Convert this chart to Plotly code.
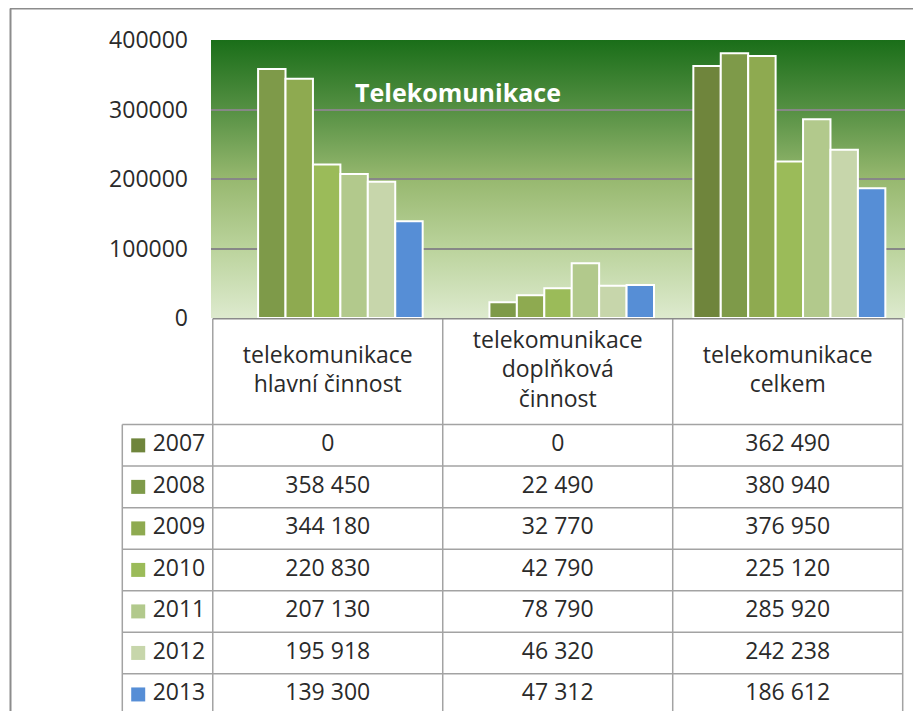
import base64
import plotly.graph_objects as go

# ---------------- data ----------------
categories = ["telekomunikace<br>hlavní činnost",
              "telekomunikace<br>doplňková<br>činnost",
              "telekomunikace<br>celkem"]
years = ["2007", "2008", "2009", "2010", "2011", "2012", "2013"]
v2007 = [0, 0, 362490]
v2008 = [358450, 22490, 380940]
v2009 = [344180, 32770, 376950]
v2010 = [220830, 42790, 225120]
v2011 = [207130, 78790, 285920]
v2012 = [195918, 46320, 242238]
v2013 = [139300, 47312, 186612]
series = [v2007, v2008, v2009, v2010, v2011, v2012, v2013]
colors = ["#6F853C", "#7E9A49", "#8EAA50", "#9BBB59", "#B2C98C", "#C7D6AB", "#568ED6"]
y_ticks = [0, 100000, 200000, 300000, 400000]
title_text = "Telekomunikace"

# ---------------- layout constants (screen pixels) ----------------
W, H = 921, 711
OX, OY = 8, 8                           # page body margin offset
PL, PR, PT, PB = 211, 905, 40, 318      # plot area
TL = 120                                # table left edge
HB = 424                                # header bottom
RH = 41.6                               # table row height
CW = (PR - PL) / 3.0
FONT = "Open Sans"
TXT = "#2a2a2a"
GRID_T = "#a3a3a3"

def fx(px):
    return (px - OX) / W

def fy(py):
    return 1 - (py - OY) / H

def px2x(px):
    return -0.5 + (px - PL) / CW

def py2y(py):
    return -0.5 + (py - HB) / RH

fig = go.Figure()

# ---------------- bars ----------------
for yr, vals, col in zip(years, series, colors):
    fig.add_trace(go.Bar(
        x=categories, y=[v if v else None for v in vals], name=yr,
        marker=dict(color=col, line=dict(color="white", width=2)),
        xaxis="x", yaxis="y", showlegend=False, hoverinfo="skip"))

# ---------------- table text ----------------
hdr_y = py2y((PB + HB) / 2.0)
fig.add_trace(go.Scatter(
    x=[0, 1, 2], y=[hdr_y] * 3, mode="text", text=categories,
    textfont=dict(family=FONT, size=23, color=TXT), textposition="middle center",
    xaxis="x2", yaxis="y2", showlegend=False, hoverinfo="skip", cliponaxis=False))

def fmt(v):
    return f"{v:,}".replace(",", " ")

for k, (yr, vals, col) in enumerate(zip(years, series, colors)):
    fig.add_trace(go.Scatter(
        x=[0, 1, 2], y=[k] * 3, mode="text", text=[fmt(v) for v in vals],
        textfont=dict(family=FONT, size=23, color=TXT), textposition="middle center",
        xaxis="x2", yaxis="y2", showlegend=False, hoverinfo="skip", cliponaxis=False))
    fig.add_trace(go.Scatter(
        x=[px2x(136)], y=[k], mode="markers",
        marker=dict(symbol="square", size=14, color=col, line=dict(width=0)),
        xaxis="x2", yaxis="y2", showlegend=False, hoverinfo="skip", cliponaxis=False))
    fig.add_trace(go.Scatter(
        x=[px2x(177)], y=[k], mode="text", text=[yr],
        textfont=dict(family=FONT, size=23, color=TXT), textposition="middle center",
        xaxis="x2", yaxis="y2", showlegend=False, hoverinfo="skip", cliponaxis=False))

# ---------------- table grid ----------------
shapes = []
y_top = py2y(PB)
y_bot = py2y(H + 20)
for xb in [-0.5, 0.5, 1.5, 2.5]:
    shapes.append(dict(type="line", xref="x2", yref="y2", x0=xb, x1=xb, y0=y_top, y1=y_bot,
                       line=dict(color=GRID_T, width=1.5)))
shapes.append(dict(type="line", xref="x2", yref="y2", x0=px2x(TL), x1=px2x(TL),
                   y0=-0.5, y1=y_bot, line=dict(color=GRID_T, width=1.5)))
for k in range(len(years) + 1):
    shapes.append(dict(type="line", xref="x2", yref="y2", x0=px2x(TL), x1=2.5,
                       y0=k - 0.5, y1=k - 0.5, line=dict(color=GRID_T, width=1.5)))
shapes.append(dict(type="line", xref="x2", yref="y2", x0=-0.5, x1=2.5, y0=y_top, y1=y_top,
                   line=dict(color="#8a8a8a", width=1.5)))
# outer chart border
shapes.append(dict(type="line", xref="paper", yref="paper", x0=fx(10), x1=1.0,
                   y0=fy(8.5), y1=fy(8.5), line=dict(color="#8c8c8c", width=2)))
shapes.append(dict(type="line", xref="paper", yref="paper", x0=fx(10.5), x1=fx(10.5),
                   y0=0, y1=fy(8.5), line=dict(color="#8c8c8c", width=2)))

# ---------------- gradient background ----------------
svg = ('<svg xmlns="http://www.w3.org/2000/svg" width="100" height="100" viewBox="0 0 100 100" '
       'preserveAspectRatio="none"><defs><linearGradient id="g" x1="0" y1="0" x2="0" y2="1">'
       '<stop offset="0" stop-color="#1A6E19"/><stop offset="0.25" stop-color="#559043"/>'
       '<stop offset="0.5" stop-color="#97B86F"/><stop offset="0.75" stop-color="#BBD39C"/>'
       '<stop offset="1" stop-color="#DDEACE"/></linearGradient></defs>'
       '<rect width="100" height="100" fill="url(#g)"/></svg>')
src = "data:image/svg+xml;base64," + base64.b64encode(svg.encode()).decode()

fig.update_layout(
    width=W, height=H, autosize=False,
    margin=dict(l=0, r=0, t=0, b=0, pad=0, autoexpand=False),
    paper_bgcolor="white", plot_bgcolor="rgba(0,0,0,0)",
    barmode="group", bargap=0.17, bargroupgap=0,
    font=dict(family=FONT, size=23, color=TXT),
    xaxis=dict(domain=[fx(PL), fx(PR)], showticklabels=False, showgrid=False,
               zeroline=False, showline=False, ticks="", automargin=False),
    yaxis=dict(domain=[fy(PB), fy(PT)], range=[0, 400000], tickvals=y_ticks,
               ticktext=[str(t) for t in y_ticks], showgrid=True, gridcolor="#878787",
               gridwidth=1.5, zeroline=False, showline=False, ticks="", automargin=False,
               ticklabelstandoff=22, tickfont=dict(family=FONT, size=23, color=TXT)),
    xaxis2=dict(domain=[fx(TL), fx(PR)], range=[px2x(TL) - 0.01, 2.51], visible=False,
                anchor="y2", automargin=False),
    yaxis2=dict(domain=[0, fy(PB)], range=[py2y(H + OY), py2y(PB) - 0.02], visible=False,
                anchor="x2", automargin=False),
    shapes=shapes,
    images=[dict(source=src, xref="paper", yref="paper", x=fx(PL), y=fy(PT),
                 sizex=(PR - PL) / W, sizey=(PB - PT) / H, sizing="stretch",
                 xanchor="left", yanchor="top", layer="below")],
    annotations=[dict(text="<b>" + title_text + "</b>", xref="paper", yref="paper",
                      x=fx(458), y=fy(92), xanchor="center", yanchor="middle",
                      showarrow=False, font=dict(family=FONT, size=25, color="white"))],
)

fig.write_html("out.html")
